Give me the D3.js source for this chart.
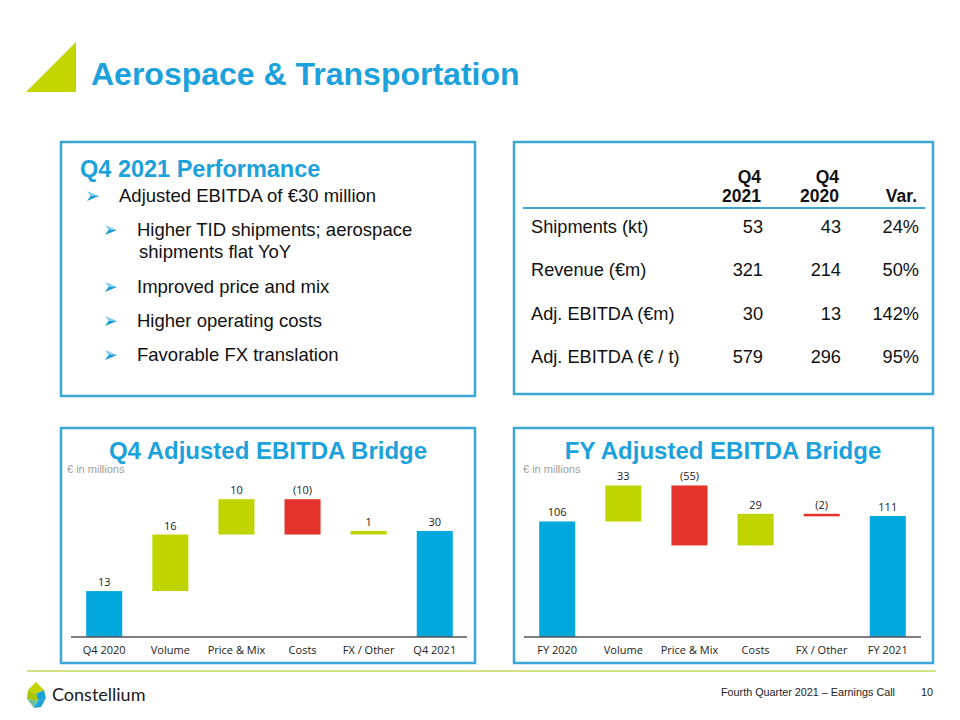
<!DOCTYPE html>
<html><head><meta charset="utf-8">
<script src="https://cdn.jsdelivr.net/npm/d3@7"></script>
<style>body{margin:0;background:#fff}svg{display:block}</style>
</head><body>
<svg id="c" width="960" height="720"></svg>
<script>
// ---------- data ----------
const pageTitle = "Aerospace & Transportation";
const perfTitle = "Q4 2021 Performance";
const perfMain = "Adjusted EBITDA of €30 million";
const perfSubs = [["Higher TID shipments; aerospace", "shipments flat YoY"], ["Improved price and mix"], ["Higher operating costs"], ["Favorable FX translation"]];

const tableHeaders = [["Q4", "2021"], ["Q4", "2020"], ["", "Var."]];
const tableRows = ["Shipments (kt)", "Revenue (€m)", "Adj. EBITDA (€m)", "Adj. EBITDA (€ / t)"];
const tableQ42021 = ["53", "321", "30", "579"];
const tableQ42020 = ["43", "214", "13", "296"];
const tableVar = ["24%", "50%", "142%", "95%"];

const q4Categories = ["Q4 2020", "Volume", "Price & Mix", "Costs", "FX / Other", "Q4 2021"];
const q4Values = [13, 16, 10, -10, 1, 30];
const q4Types = ["total", "delta", "delta", "delta", "delta", "total"];

const fyCategories = ["FY 2020", "Volume", "Price & Mix", "Costs", "FX / Other", "FY 2021"];
const fyValues = [106, 33, -55, 29, -2, 111];
const fyTypes = ["total", "delta", "delta", "delta", "delta", "total"];

const footerText = "Fourth Quarter 2021 – Earnings Call";
const pageNumber = "10";

// ---------- style ----------
const BLUE = "#1ba1db", BORDER = "#3aa7d6", BAR_BLUE = "#00a8de", GREEN = "#c0d400", RED = "#e3332b";
const ARIAL = "'Liberation Sans', Arial, sans-serif";
const CAL = "'Open Sans', sans-serif";

const svg = d3.select("#c");

// header
svg.append("path").attr("d", "M26,92 L76,42 L76,92 Z").attr("fill", "#c3d600");
svg.append("text").attr("x", 91).attr("y", 85).text(pageTitle)
  .attr("font-family", ARIAL).attr("font-weight", "bold").attr("font-size", 32).attr("fill", BLUE);

// panels
const panels = [[61, 142, 414, 254], [514, 142, 419, 252], [61, 428, 414, 235], [514, 428, 419, 235]];
svg.selectAll("rect.panel").data(panels).join("rect").attr("class", "panel")
  .attr("x", d => d[0]).attr("y", d => d[1]).attr("width", d => d[2]).attr("height", d => d[3])
  .attr("fill", "none").attr("stroke", BORDER).attr("stroke-width", 2.5);

// performance panel
svg.append("text").attr("x", 80).attr("y", 177).text(perfTitle)
  .attr("font-family", ARIAL).attr("font-weight", "bold").attr("font-size", 23.5).attr("fill", BLUE);
function arrow(x, y) {
  // x,y = left top of a 12x10 arrowhead
  const g = svg.append("g").attr("transform", `translate(${x},${y})`);
  g.append("path").attr("d", "M0,0 L12,5 L3.5,5 Z").attr("fill", "#7fcdee");
  g.append("path").attr("d", "M3.5,5 L12,5 L0,10 Z").attr("fill", "#1a9bd5");
}
arrow(87, 191);
svg.append("text").attr("x", 119).attr("y", 202).text(perfMain)
  .attr("font-family", ARIAL).attr("font-size", 18.5).attr("fill", "#111");
const subY = [236, 293, 327, 361];
perfSubs.forEach((lines, i) => {
  arrow(105, subY[i] - 11);
  lines.forEach((l, j) => {
    svg.append("text").attr("x", j === 0 ? 137 : 139).attr("y", subY[i] + j * 22).text(l)
      .attr("font-family", ARIAL).attr("font-size", 18.5).attr("fill", "#111");
  });
});

// table panel
const colX = [761, 839, 917];
tableHeaders.forEach((h, i) => {
  h.forEach((t, j) => {
    svg.append("text").attr("x", colX[i]).attr("y", 183 + j * 19).attr("text-anchor", "end").text(t)
      .attr("font-family", ARIAL).attr("font-weight", "bold").attr("font-size", 17.5).attr("fill", "#111");
  });
});
svg.append("line").attr("x1", 523).attr("x2", 925).attr("y1", 208).attr("y2", 208)
  .attr("stroke", BORDER).attr("stroke-width", 2);
const rowY = [233, 276, 320, 363];
tableRows.forEach((r, i) => {
  svg.append("text").attr("x", 531).attr("y", rowY[i]).text(r)
    .attr("font-family", ARIAL).attr("font-size", 18.2).attr("fill", "#111");
  [tableQ42021[i], tableQ42020[i], tableVar[i]].forEach((v, k) => {
    svg.append("text").attr("x", colX[k] + 2).attr("y", rowY[i]).attr("text-anchor", "end").text(v)
      .attr("font-family", ARIAL).attr("font-size", 18.2).attr("fill", "#111");
  });
});

// bridges
function bridge(cfg) {
  const { title, titleX, x0, x1, categories, values, types, yTop, topValue } = cfg;
  const baseY = 637;
  svg.append("text").attr("x", titleX).attr("y", 459).attr("text-anchor", "middle").text(title)
    .attr("font-family", ARIAL).attr("font-weight", "bold").attr("font-size", 24).attr("fill", BLUE);
  svg.append("text").attr("x", cfg.noteX).attr("y", 473).text("€ in millions")
    .attr("font-family", ARIAL).attr("font-size", 11).attr("fill", "#a0a0a0");

  const x = d3.scaleBand().domain(categories).range([x0, x1]).paddingInner(0.455).paddingOuter(0.23);
  const y = d3.scaleLinear().domain([0, topValue]).range([baseY, yTop]);

  let run = 0;
  const bars = values.map((v, i) => {
    let a, b;
    if (types[i] === "total") { a = 0; b = v; run = v; }
    else { a = run; b = run + v; run = b; }
    return { cat: categories[i], v, lo: Math.min(a, b), hi: Math.max(a, b),
      color: types[i] === "total" ? BAR_BLUE : (v >= 0 ? GREEN : RED),
      label: v < 0 ? "(" + Math.abs(v) + ")" : String(v) };
  });
  const g = svg.append("g");
  g.selectAll("rect").data(bars).join("rect")
    .attr("x", d => x(d.cat)).attr("width", x.bandwidth())
    .attr("y", d => y(d.hi)).attr("height", d => Math.max(2.5, y(d.lo) - y(d.hi)))
    .attr("fill", d => d.color);
  g.selectAll("text.val").data(bars).join("text").attr("class", "val")
    .attr("x", d => x(d.cat) + x.bandwidth() / 2).attr("y", d => y(d.hi) - 5)
    .attr("text-anchor", "middle").text(d => d.label)
    .attr("font-family", CAL).attr("font-size", 11).attr("fill", "#222");
  g.append("line").attr("x1", cfg.axisX0).attr("x2", cfg.axisX1).attr("y1", baseY).attr("y2", baseY)
    .attr("stroke", "#555").attr("stroke-width", 1.5);
  const axis = d3.axisBottom(x).tickSize(0).tickPadding(9);
  const ag = svg.append("g").attr("transform", `translate(0,${baseY})`).call(axis);
  ag.select(".domain").remove();
  ag.selectAll("text").attr("font-family", CAL).attr("font-size", 11).attr("fill", "#222");
}
bridge({ title: "Q4 Adjusted EBITDA Bridge", titleX: 268, noteX: 67, x0: 71, x1: 468,
  axisX0: 71, axisX1: 467, categories: q4Categories, values: q4Values, types: q4Types, yTop: 531, topValue: 30 });
bridge({ title: "FY Adjusted EBITDA Bridge", titleX: 723, noteX: 523, x0: 524, x1: 921,
  axisX0: 524, axisX1: 921, categories: fyCategories, values: fyValues, types: fyTypes, yTop: 516, topValue: 111 });

// footer
svg.append("line").attr("x1", 27).attr("x2", 936).attr("y1", 671).attr("y2", 671)
  .attr("stroke", "#c9d75a").attr("stroke-width", 1.5);
const logo = svg.append("g");
logo.append("path").attr("d", "M36,682 L44,690 L36,694 L28,690 Z").attr("fill", GREEN);
logo.append("path").attr("d", "M36,694 L44,690 L46,698 L38,701 Z").attr("fill", "#1aa1d8");
logo.append("path").attr("d", "M28,690 L36,694 L38,701 L27,699 Z").attr("fill", "#a8c700");
logo.append("path").attr("d", "M27,699 L38,701 L34,708 Z").attr("fill", "#6cc0a0");
logo.append("path").attr("d", "M38,701 L46,698 L41,707 L34,708 Z").attr("fill", "#1aa1d8");
svg.append("text").attr("x", 52).attr("y", 701).text("Constellium")
  .attr("font-family", "Lato, sans-serif").attr("font-size", 18).attr("fill", "#1a1a1a");
svg.append("text").attr("x", 895).attr("y", 696).attr("text-anchor", "end").text(footerText)
  .attr("font-family", ARIAL).attr("font-size", 10.8).attr("fill", "#222");
svg.append("text").attr("x", 933).attr("y", 696).attr("text-anchor", "end").text(pageNumber)
  .attr("font-family", ARIAL).attr("font-size", 10.8).attr("fill", "#222");
</script>
</body></html>
